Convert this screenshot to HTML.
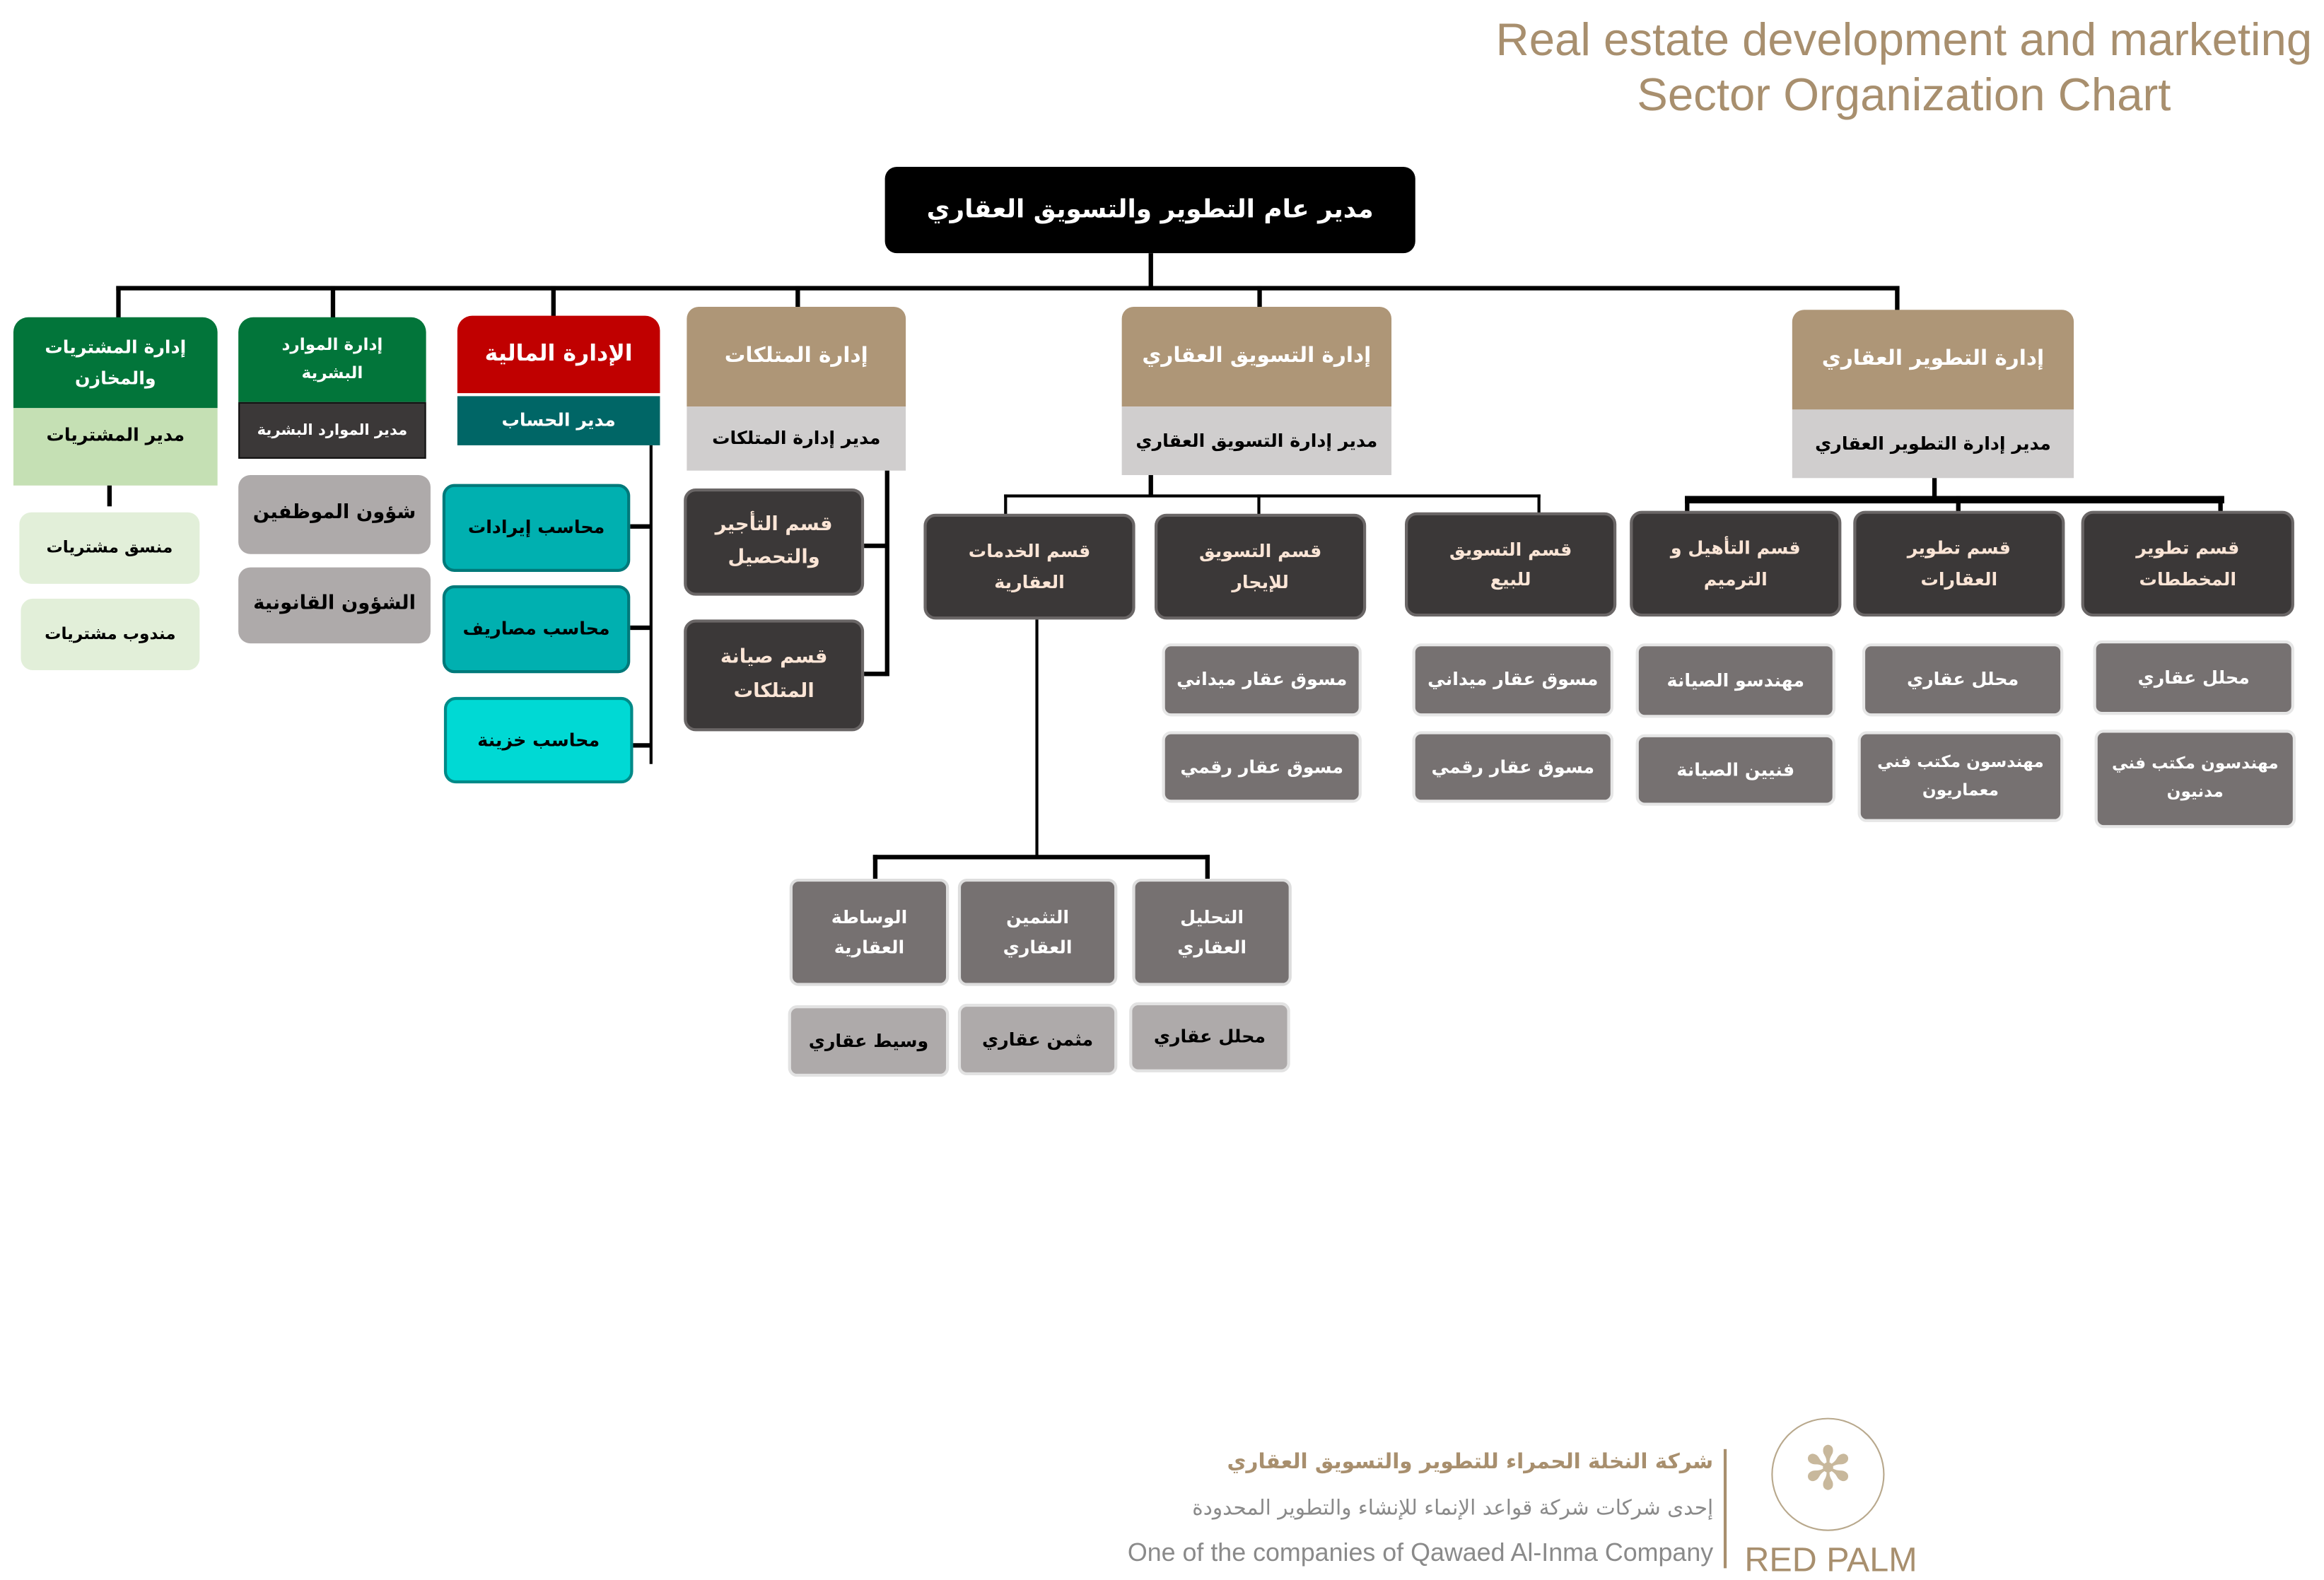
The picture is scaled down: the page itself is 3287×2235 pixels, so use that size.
<!DOCTYPE html>
<html><head><meta charset="utf-8"><style>
html,body{margin:0;padding:0;background:#fff;width:3287px;height:2231px;overflow:hidden}
#w{position:absolute;left:0;top:0;width:1560px;height:1059px;transform:scale(2.1071,2.1067);transform-origin:0 0}
.b{position:absolute;box-sizing:border-box;display:flex;align-items:center;justify-content:center;text-align:center;font-family:"DejaVu Sans",sans-serif;font-weight:bold;direction:rtl;line-height:1.7}
.l{position:absolute;background:#000}
.dk{background:#3b3838;color:#fbe5d6;border:2px solid #6a6666;border-radius:8px;font-size:12px}
.gy{background:#767171;color:#fff;border:2px solid #e6e6e6;border-radius:6px;font-size:12px}
.tan{background:#ae9677;color:#fff;border-radius:8px 8px 0 0;font-size:14px}
.sub{background:#d0cece;color:#000;font-size:12px}
</style></head><body><div id="w">
<div style="position:absolute;right:8px;top:8px;font-family:'Liberation Sans',sans-serif;font-size:31px;color:#a88f6e;text-align:center;line-height:37px">Real estate development and marketing<br>Sector Organization Chart</div>

<div class="b" style="left:594px;top:112px;width:356px;height:58px;background:#000;color:#fff;border-radius:8px;font-size:17px">مدير عام التطوير والتسويق العقاري</div>
<div class="l" style="left:771px;top:170px;width:3px;height:24px"></div>
<div class="l" style="left:78px;top:192px;width:1197px;height:3px"></div>
<div class="l" style="left:78px;top:192px;width:3px;height:22px"></div>
<div class="l" style="left:222px;top:192px;width:3px;height:22px"></div>
<div class="l" style="left:370px;top:192px;width:3px;height:21px"></div>
<div class="l" style="left:534px;top:192px;width:3px;height:15px"></div>
<div class="l" style="left:844px;top:192px;width:3px;height:15px"></div>
<div class="l" style="left:1272px;top:192px;width:3px;height:17px"></div>

<!-- col1 -->
<div class="b" style="left:9px;top:213px;width:137px;height:61px;background:#02753a;color:#fff;border-radius:10px 10px 0 0;font-size:12px">إدارة المشتريات<br>والمخازن</div>
<div class="b" style="left:9px;top:274px;width:137px;height:52px;background:#c5e0b4;font-size:12px;align-items:flex-start;padding-top:8px">مدير المشتريات</div>
<div class="l" style="left:72px;top:326px;width:3px;height:14px"></div>
<div class="b" style="left:13px;top:344px;width:121px;height:48px;background:#e2efd9;border-radius:8px;font-size:11px">منسق مشتريات</div>
<div class="b" style="left:14px;top:402px;width:120px;height:48px;background:#e2efd9;border-radius:8px;font-size:11px">مندوب مشتريات</div>

<!-- col2 -->
<div class="b" style="left:160px;top:213px;width:126px;height:57px;background:#02753a;color:#fff;border-radius:10px 10px 0 0;font-size:11px">إدارة الموارد<br>البشرية</div>
<div class="b" style="left:160px;top:270px;width:126px;height:38px;background:#3b3838;color:#fff;border:1px solid #111;font-size:10px">مدير الموارد البشرية</div>
<div class="b" style="left:160px;top:319px;width:129px;height:53px;background:#aeaaaa;border-radius:8px;font-size:13px">شؤون الموظفين</div>
<div class="b" style="left:160px;top:381px;width:129px;height:51px;background:#aeaaaa;border-radius:8px;font-size:13px">الشؤون القانونية</div>

<!-- col3 -->
<div class="b" style="left:307px;top:212px;width:136px;height:52px;background:#c00000;color:#fff;border-radius:10px 10px 0 0;font-size:15px">الإدارة المالية</div>
<div class="b" style="left:307px;top:266px;width:136px;height:33px;background:#006666;color:#fff;font-size:12px">مدير الحساب</div>
<div class="l" style="left:436px;top:299px;width:2px;height:214px"></div>
<div class="l" style="left:423px;top:352px;width:14px;height:3px"></div>
<div class="l" style="left:423px;top:420px;width:14px;height:3px"></div>
<div class="l" style="left:425px;top:499px;width:12px;height:3px"></div>
<div class="b" style="left:297px;top:325px;width:126px;height:59px;background:#00b0b0;border:2px solid #00797a;border-radius:8px;font-size:12px">محاسب إيرادات</div>
<div class="b" style="left:297px;top:393px;width:126px;height:59px;background:#00b0b0;border:2px solid #00797a;border-radius:8px;font-size:12px">محاسب مصاريف</div>
<div class="b" style="left:298px;top:468px;width:127px;height:58px;background:#00d9d4;border:2px solid #008a88;border-radius:8px;font-size:12px">محاسب خزينة</div>

<!-- col4 -->
<div class="b tan" style="left:461px;top:206px;width:147px;height:67px">إدارة المتلكات</div>
<div class="b sub" style="left:461px;top:273px;width:147px;height:43px">مدير إدارة المتلكات</div>
<div class="l" style="left:594px;top:316px;width:3px;height:138px"></div>
<div class="l" style="left:580px;top:365px;width:15px;height:3px"></div>
<div class="l" style="left:580px;top:451px;width:15px;height:3px"></div>
<div class="b dk" style="left:459px;top:328px;width:121px;height:72px;font-size:13px">قسم التأجير<br>والتحصيل</div>
<div class="b dk" style="left:459px;top:416px;width:121px;height:75px;font-size:13px">قسم صيانة<br>المتلكات</div>

<!-- col5 -->
<div class="b tan" style="left:753px;top:206px;width:181px;height:67px">إدارة التسويق العقاري</div>
<div class="b sub" style="left:753px;top:273px;width:181px;height:46px">مدير إدارة التسويق العقاري</div>
<div class="l" style="left:771px;top:319px;width:3px;height:14px"></div>
<div class="l" style="left:674px;top:332px;width:360px;height:2px"></div>
<div class="l" style="left:674px;top:332px;width:2px;height:14px"></div>
<div class="l" style="left:844px;top:332px;width:2px;height:14px"></div>
<div class="l" style="left:1032px;top:332px;width:2px;height:13px"></div>
<div class="b dk" style="left:620px;top:345px;width:142px;height:71px">قسم الخدمات<br>العقارية</div>
<div class="b dk" style="left:775px;top:345px;width:142px;height:71px">قسم التسويق<br>للإيجار</div>
<div class="b dk" style="left:943px;top:344px;width:142px;height:70px">قسم التسويق<br>للبيع</div>
<div class="b gy" style="left:780px;top:432px;width:134px;height:49px">مسوق عقار ميداني</div>
<div class="b gy" style="left:780px;top:491px;width:134px;height:48px">مسوق عقار رقمي</div>
<div class="b gy" style="left:948px;top:432px;width:135px;height:49px">مسوق عقار ميداني</div>
<div class="b gy" style="left:948px;top:491px;width:135px;height:48px">مسوق عقار رقمي</div>
<div class="l" style="left:695px;top:416px;width:2px;height:160px"></div>
<div class="l" style="left:586px;top:574px;width:226px;height:3px"></div>
<div class="l" style="left:586px;top:574px;width:3px;height:17px"></div>
<div class="l" style="left:809px;top:574px;width:3px;height:17px"></div>
<div class="b gy" style="left:530px;top:590px;width:107px;height:72px;border-color:#ddd">الوساطة<br>العقارية</div>
<div class="b gy" style="left:643px;top:590px;width:107px;height:72px;border-color:#ddd">التثمين<br>العقاري</div>
<div class="b gy" style="left:760px;top:590px;width:107px;height:72px;border-color:#ddd">التحليل<br>العقاري</div>
<div class="b" style="left:529px;top:675px;width:108px;height:48px;background:#aeaaaa;border:2px solid #e2e2e2;border-radius:6px;font-size:12px">وسيط عقاري</div>
<div class="b" style="left:643px;top:674px;width:107px;height:48px;background:#aeaaaa;border:2px solid #e2e2e2;border-radius:6px;font-size:12px">مثمن عقاري</div>
<div class="b" style="left:758px;top:673px;width:108px;height:47px;background:#aeaaaa;border:2px solid #e2e2e2;border-radius:6px;font-size:12px">محلل عقاري</div>

<!-- col6 -->
<div class="b tan" style="left:1203px;top:208px;width:189px;height:67px">إدارة التطوير العقاري</div>
<div class="b sub" style="left:1203px;top:275px;width:189px;height:46px">مدير إدارة التطوير العقاري</div>
<div class="l" style="left:1297px;top:321px;width:3px;height:14px"></div>
<div class="l" style="left:1131px;top:333px;width:362px;height:5px"></div>
<div class="l" style="left:1131px;top:333px;width:3px;height:12px"></div>
<div class="l" style="left:1313px;top:333px;width:3px;height:12px"></div>
<div class="l" style="left:1489px;top:333px;width:3px;height:12px"></div>
<div class="b dk" style="left:1094px;top:343px;width:142px;height:71px">قسم التأهيل و<br>الترميم</div>
<div class="b dk" style="left:1244px;top:343px;width:142px;height:71px">قسم تطوير<br>العقارات</div>
<div class="b dk" style="left:1397px;top:343px;width:143px;height:71px">قسم تطوير<br>المخططات</div>
<div class="b gy" style="left:1098px;top:432px;width:134px;height:50px">مهندسو الصيانة</div>
<div class="b gy" style="left:1098px;top:493px;width:134px;height:48px">فنيين الصيانة</div>
<div class="b gy" style="left:1250px;top:432px;width:135px;height:49px">محلل عقاري</div>
<div class="b gy" style="left:1247px;top:491px;width:138px;height:61px;font-size:11px">مهندسون مكتب فني<br>معماريون</div>
<div class="b gy" style="left:1405px;top:430px;width:135px;height:50px">محلل عقاري</div>
<div class="b gy" style="left:1406px;top:490px;width:135px;height:66px;font-size:11px">مهندسون مكتب فني<br>مدنيون</div>

<!-- footer -->
<div style="position:absolute;right:410px;top:974px;font-family:'DejaVu Sans',sans-serif;font-weight:bold;font-size:14px;color:#a88f6e;direction:rtl">شركة النخلة الحمراء للتطوير والتسويق العقاري</div>
<div style="position:absolute;right:410px;top:1005px;font-family:'DejaVu Sans',sans-serif;font-size:14px;color:#8a8a8a;direction:rtl">إحدى شركات شركة قواعد الإنماء للإنشاء والتطوير المحدودة</div>
<div style="position:absolute;right:410px;top:1033px;font-family:'Liberation Sans',sans-serif;font-size:17px;color:#8a8a8a">One of the companies of Qawaed Al-Inma Company</div>
<div style="position:absolute;left:1157px;top:973px;width:2px;height:80px;background:#a88f6e"></div>
<div style="position:absolute;left:1189px;top:952px;width:74px;height:74px;border:1px solid #b8a88c;border-radius:50%"></div>
<div style="position:absolute;left:1205px;top:962px;width:44px;height:50px;font-size:40px;color:#c8b89c;text-align:center;line-height:50px">✻</div>
<div style="position:absolute;left:1171px;top:1034px;font-family:'Liberation Sans',sans-serif;font-size:23px;color:#a88f6e">RED PALM</div>
</div></body></html>
